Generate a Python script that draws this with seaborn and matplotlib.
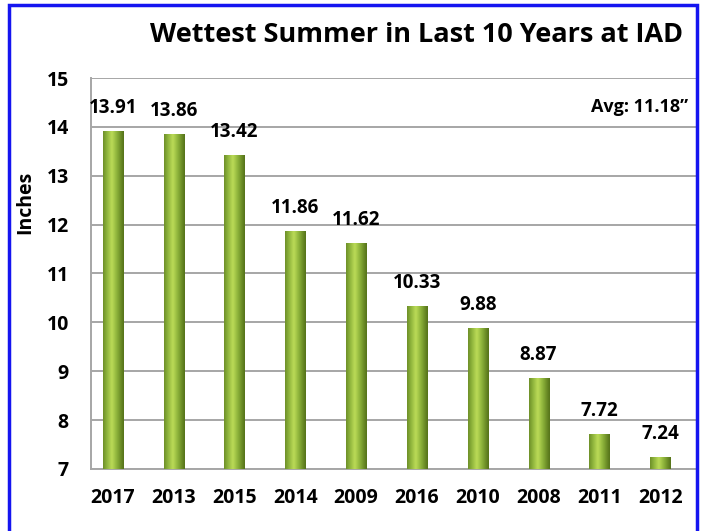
# Wettest summers at IAD (last 10 years), bar chart
import numpy as np
import pandas as pd
import matplotlib.pyplot as plt
import seaborn as sns
from matplotlib.colors import LinearSegmentedColormap
from matplotlib.patches import Rectangle

# 1. Data
years = ['2017', '2013', '2015', '2014', '2009', '2016', '2010', '2008', '2011', '2012']
rain = [13.91, 13.86, 13.42, 11.86, 11.62, 10.33, 9.88, 8.87, 7.72, 7.24]
y_ticks = [7, 8, 9, 10, 11, 12, 13, 14, 15]
title = 'Wettest Summer in Last 10 Years at IAD'
avg_text = 'Avg: 11.18\u201d'

df = pd.DataFrame({'year': years, 'inches': rain})

# 2. Style
sns.set_style('white')
plt.rcParams['font.family'] = ['Open Sans', 'DejaVu Sans']
plt.rcParams['font.weight'] = 'bold'
plt.rcParams['text.color'] = 'black'
plt.rcParams['xtick.labelcolor'] = 'black'
plt.rcParams['ytick.labelcolor'] = 'black'

fig = plt.figure(figsize=(7.02, 5.31), dpi=100)
ax = fig.add_axes([0.1296, 0.1168, 0.8619, 0.7363])

sns.barplot(data=df, x='year', y='inches', order=years, color='#7BA02E',
            width=0.33, ax=ax, zorder=3, edgecolor='none')

ax.set_ylim(y_ticks[0], y_ticks[-1])
ax.set_xlim(-0.36, 9.59)

# 3. Gradient fill on each bar (clipped to the bar patch)
cmap = LinearSegmentedColormap.from_list('grn', ['#56731A', '#88AE38', '#BCDC58'])
t = np.linspace(0, 1, 64)
prof = np.clip(1 - np.abs(t - 0.42) / 0.58, 0, 1) ** 1.1
grad = np.tile(prof, (2, 1))
for p in ax.patches:
    x0 = p.get_x()
    w = p.get_width()
    top = p.get_y() + p.get_height()
    im = ax.imshow(grad, extent=[x0, x0 + w, y_ticks[0], top], aspect='auto',
                   cmap=cmap, vmin=0, vmax=1, zorder=4, interpolation='bicubic')
    im.set_clip_path(p)

ax.set_ylim(y_ticks[0], y_ticks[-1])
ax.set_xlim(-0.36, 9.59)

# 4. Value labels
for p, v in zip(ax.patches, rain):
    ax.text(p.get_x() + p.get_width() / 2, v + 0.47, f'{v:.2f}', ha='center', va='center',
            fontsize=13.5, fontweight='bold', color='black', zorder=5)

# 5. Axes, grid, ticks
ax.set_yticks(y_ticks)
ax.yaxis.grid(True, color='#A6A6A6', linewidth=1.4, zorder=0)
ax.set_axisbelow(True)
for s in ['top', 'right']:
    ax.spines[s].set_visible(False)
for s in ['left', 'bottom']:
    ax.spines[s].set_color('#A6A6A6')
    ax.spines[s].set_linewidth(1.4)
ax.tick_params(axis='y', length=6, width=1.2, color='#A6A6A6', pad=10, labelsize=14,
               labelcolor='black')
ax.tick_params(axis='x', length=0, pad=14, labelsize=14, labelcolor='black')
for lab in ax.get_xticklabels() + ax.get_yticklabels():
    lab.set_fontweight('bold')
ax.set_xlabel('')
ax.set_ylabel('')

fig.text(0.036, 0.618, 'Inches', rotation=90, ha='center', va='center',
         fontsize=14, fontweight='bold', color='black')
fig.text(0.594, 0.921, title, ha='center', va='baseline', fontsize=19.5,
         fontweight='bold', color='black')
ax.text(0.987, 0.926, avg_text, transform=ax.transAxes, ha='right', va='center',
        fontsize=13, fontweight='bold', color='black')

# 6. Blue frame around the chart
fig.patches.append(Rectangle((9 / 702, -0.05), 688 / 702, 526 / 531 + 0.05,
                             transform=fig.transFigure, fill=False,
                             edgecolor='#1515F0', linewidth=2.5))

fig.savefig('out.png', dpi=100)
